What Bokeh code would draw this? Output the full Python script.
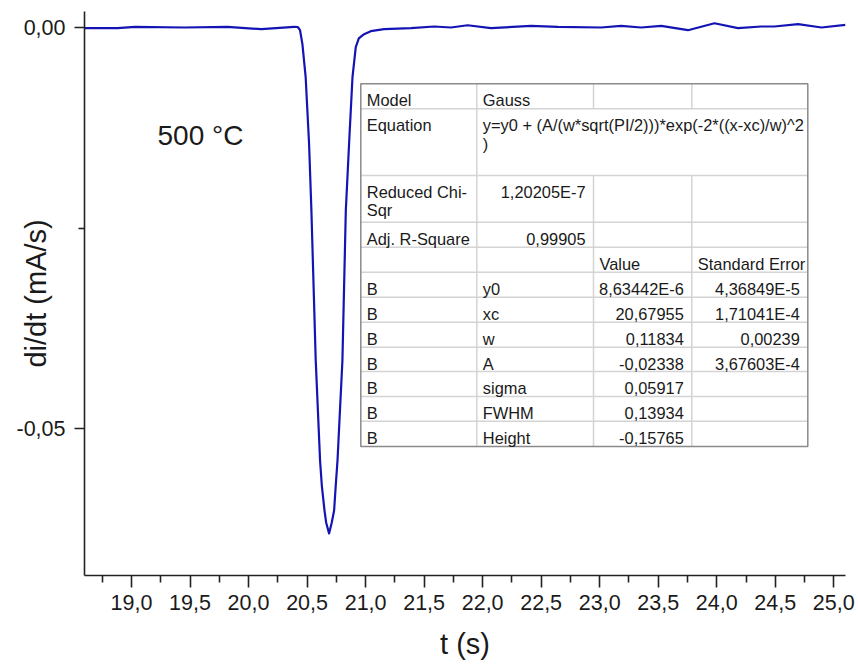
import math
from bokeh.plotting import figure
from bokeh.models import Range1d, FixedTicker, CustomJSTickFormatter, Label
from bokeh.embed import file_html
from bokeh.resources import INLINE

# ---------------- data ----------------
t_s = [18.60, 18.88, 19.03, 19.45, 19.82, 20.11, 20.39, 20.42, 20.44, 20.46,
       20.488, 20.517, 20.537, 20.574, 20.611, 20.626, 20.649, 20.663, 20.688, 20.711,
       20.731, 20.745, 20.760, 20.802, 20.831, 20.859, 20.888, 20.916, 20.942, 20.987,
       21.044, 21.158, 21.387, 21.586, 21.729, 21.872, 22.071, 22.413, 22.642,
       23.012, 23.183, 23.354, 23.526, 23.754, 23.981, 24.181, 24.381, 24.492,
       24.695, 24.895, 25.10]
didt = [-0.00005, -0.00005, 0.00012, 0.00004, 0.00012, -0.00017, 0.00012, 0.00010, -0.00030, -0.00200,
        -0.00616, -0.01443, -0.02278, -0.04148, -0.05395, -0.05707, -0.06019, -0.06168, -0.06305, -0.06168,
        -0.06019, -0.05707, -0.05395, -0.04148, -0.02278, -0.01443, -0.00616, -0.00242, -0.00133, -0.00080,
        -0.00042, -0.00017, -0.00005, 0.00016, 0.00004, 0.00032, -0.00005, 0.00025, 0.00012,
        0.00004, 0.00025, 0.00004, 0.00025, -0.00030, 0.00057, -0.00005, 0.00016, 0.00016,
        0.00045, 0.00004, 0.00037]

x_tick_values = [19.0, 19.5, 20.0, 20.5, 21.0, 21.5, 22.0, 22.5, 23.0, 23.5, 24.0, 24.5, 25.0]
x_tick_labels = ["19,0", "19,5", "20,0", "20,5", "21,0", "21,5", "22,0", "22,5", "23,0",
                 "23,5", "24,0", "24,5", "25,0"]
x_minor_ticks = [18.75, 19.25, 19.75, 20.25, 20.75, 21.25, 21.75, 22.25, 22.75, 23.25,
                 23.75, 24.25, 24.75]
y_tick_values = [-0.05, 0.0]
y_tick_labels = ["-0,05", "0,00"]
y_minor_ticks = [-0.025]

x_title = "t (s)"
y_title = "di/dt (mA/s)"
temperature_label = "500 °C"

table_rows = [
    ["Model", "Gauss", "", ""],
    ["Equation", "y=y0 + (A/(w*sqrt(PI/2)))*exp(-2*((x-xc)/w)^2\n)", "", ""],
    ["Reduced Chi-\nSqr", "1,20205E-7", "", ""],
    ["Adj. R-Square", "0,99905", "", ""],
    ["", "", "Value", "Standard Error"],
    ["B", "y0", "8,63442E-6", "4,36849E-5"],
    ["B", "xc", "20,67955", "1,71041E-4"],
    ["B", "w", "0,11834", "0,00239"],
    ["B", "A", "-0,02338", "3,67603E-4"],
    ["B", "sigma", "0,05917", ""],
    ["B", "FWHM", "0,13934", ""],
    ["B", "Height", "-0,15765", ""],
]
right_aligned = {(2, 1), (3, 1)} | {(r, c) for r in range(5, 12) for c in (2, 3)}

# ---------------- layout ----------------
X_START, X_END = 18.5985, 25.10
Y_START, Y_END = -0.06829, 0.002032
W, H = 858, 666
FRAME_L, FRAME_R, FRAME_T, FRAME_B = 84.0, 845.0, 11.0, 575.0  # canvas pixels


def px2x(px):
    return X_START + (px - FRAME_L) / (FRAME_R - FRAME_L) * (X_END - X_START)


def py2y(py):
    return Y_END - (py - FRAME_T) / (FRAME_B - FRAME_T) * (Y_END - Y_START)


FONT = "Liberation Sans"
TXT = "#1a1a1a"

p = figure(width=W, height=H, output_backend="svg", toolbar_location=None,
           x_range=Range1d(X_START, X_END), y_range=Range1d(Y_START, Y_END),
           min_border_left=int(FRAME_L), min_border_right=int(W - FRAME_R),
           min_border_top=int(FRAME_T), min_border_bottom=int(H - FRAME_B))
p.outline_line_color = None
p.grid.visible = False
p.background_fill_color = "white"
p.border_fill_color = "white"

p.line(t_s, didt, line_color="#1414b4", line_width=2.2, line_join="round")

# axes
p.xaxis.ticker = FixedTicker(ticks=x_tick_values, minor_ticks=x_minor_ticks)
p.xaxis.formatter = CustomJSTickFormatter(args=dict(tv=x_tick_values, tl=x_tick_labels), code="""
const i = tv.findIndex(v => Math.abs(v - tick) < 1e-9); return i >= 0 ? tl[i] : '';""")
p.yaxis.ticker = FixedTicker(ticks=y_tick_values, minor_ticks=y_minor_ticks)
p.yaxis.formatter = CustomJSTickFormatter(args=dict(tv=y_tick_values, tl=y_tick_labels), code="""
const i = tv.findIndex(v => Math.abs(v - tick) < 1e-9); return i >= 0 ? tl[i] : '';""")

for ax in (p.xaxis, p.yaxis):
    ax.axis_line_color = "#222222"
    ax.axis_line_width = 1.6
    ax.major_tick_line_color = "#222222"
    ax.minor_tick_line_color = "#222222"
    ax.major_tick_line_width = 1.6
    ax.minor_tick_line_width = 1.6
    ax.major_tick_in = 0
    ax.minor_tick_in = 0
    ax.major_label_text_font = FONT
    ax.major_label_text_color = TXT
    ax.major_label_text_font_size = "21.5px"
    ax.axis_label_text_font = FONT
    ax.axis_label_text_font_style = "normal"
    ax.axis_label_text_color = TXT
    ax.axis_label_text_font_size = "29px"

p.xaxis.major_tick_out = 12
p.xaxis.minor_tick_out = 7
p.xaxis.major_label_standoff = 7
p.xaxis.axis_label = x_title
p.xaxis.axis_label_standoff = 15

p.yaxis.major_tick_out = 10
p.yaxis.minor_tick_out = 6
p.yaxis.major_label_standoff = 9
p.yaxis.axis_label = y_title
p.yaxis.axis_label_standoff = -39

p.add_layout(Label(x=px2x(157), y=py2y(135), text=temperature_label, text_align="left",
                   text_baseline="alphabetic", text_font=FONT, text_font_size="28px", text_color=TXT))

# ---------------- results table ----------------
col_px = [360.3, 476.3, 593.0, 691.3, 807.3]
row_px = [83.3, 108.3, 175.0, 221.7, 246.7, 271.7, 296.7, 321.7, 346.7, 371.0, 396.0, 420.7, 446.0]

p.quad(left=[px2x(col_px[0])], right=[px2x(col_px[-1])], top=[py2y(row_px[0])],
       bottom=[py2y(row_px[-1])], fill_color="white", line_color=None)

inner = "#d4d4d4"
hx0, hx1, hy0, hy1 = [], [], [], []
for r in row_px[1:-1]:
    hx0.append(px2x(col_px[0])); hx1.append(px2x(col_px[-1]))
    hy0.append(py2y(r)); hy1.append(py2y(r))
hx0.append(px2x(col_px[1])); hx1.append(px2x(col_px[1]))
hy0.append(py2y(row_px[0])); hy1.append(py2y(row_px[-1]))
for c in col_px[2:4]:
    hx0 += [px2x(c), px2x(c)]; hx1 += [px2x(c), px2x(c)]
    hy0 += [py2y(row_px[0]), py2y(row_px[2])]; hy1 += [py2y(row_px[1]), py2y(row_px[-1])]
p.segment(x0=hx0, y0=hy0, x1=hx1, y1=hy1, line_color=inner, line_width=1.5)

p.quad(left=[px2x(col_px[0])], right=[px2x(col_px[-1])], top=[py2y(row_px[0])],
       bottom=[py2y(row_px[-1])], fill_color=None, line_color="#8a8a8a", line_width=1.5)

for ri, row in enumerate(table_rows):
    top = row_px[ri]
    for ci, txt in enumerate(row):
        if not txt:
            continue
        for li, line in enumerate(txt.split("\n")):
            base = top + 16.3 + li * 18.4
            if (ri, ci) in right_aligned:
                xp, al = col_px[ci + 1] - 8, "right"
            else:
                xp, al = col_px[ci] + 6, "left"
            p.add_layout(Label(x=px2x(xp), y=py2y(base), text=line, text_align=al,
                               text_baseline="alphabetic", text_font=FONT,
                               text_font_size="16.4px", text_color=TXT))

open("out.html", "w").write(file_html(p, INLINE))
